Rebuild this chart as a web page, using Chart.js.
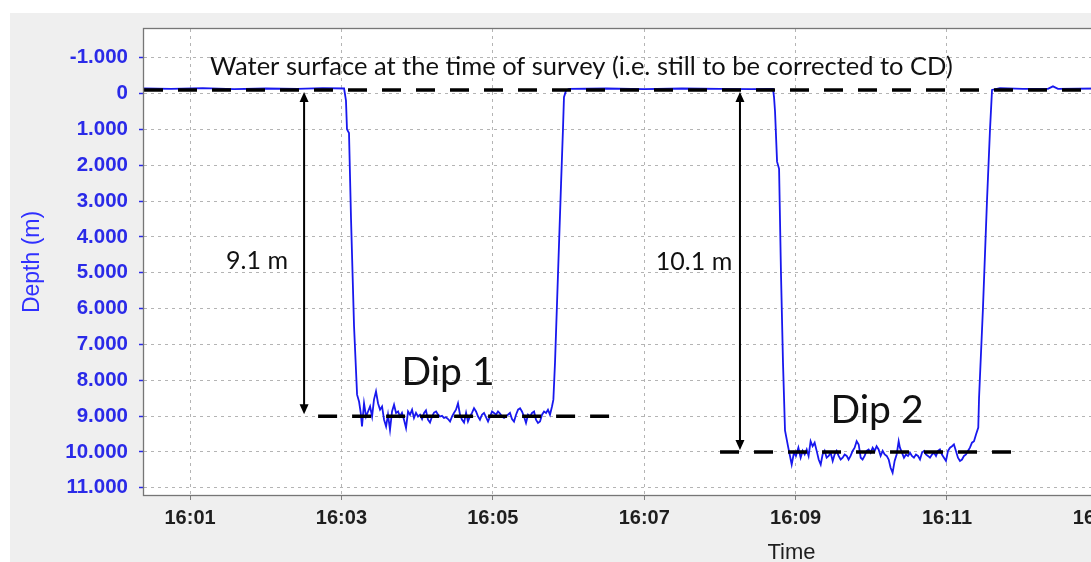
<!DOCTYPE html>
<html>
<head>
<meta charset="utf-8">
<title>Depth (m)</title>
<script src="https://cdn.jsdelivr.net/npm/chart.js@4.4.0/dist/chart.umd.min.js"></script>
<style>
    body { margin: 0; background: #ffffff; overflow: hidden; }
    #panel { position: absolute; left: 10px; top: 13px; width: 1440px; height: 560px; background: #efefef; }
</style>
</head>
<body>
<div id="panel"><canvas id="myChart" width="1440" height="560"></canvas></div>
<script>
// time in seconds after 16:00, depth in metres (positive down)
var elapsedSec = [
    23.5, 45, 70, 95, 120, 145, 165, 182.1,
    183.6, 184.4, 186.0, 187.6, 190.0, 192.4, 194.0,
    195.3, 196.3, 197.9, 199.5, 201.1, 202.7, 204.3, 205.8, 207.4, 209.0,
    210.6, 212.2, 213.8, 215.4, 216.9, 218.5, 220.1, 221.7, 223.3, 224.9,
    226.4, 228.0, 229.6, 231.2, 232.8, 234.4, 236.0, 237.5, 239.1, 240.7,
    242.3, 243.9, 245.5, 247.0, 248.6, 250.2, 251.8, 253.4, 255.0, 256.6,
    258.1, 259.7, 261.3, 262.9, 264.5, 266.1, 267.7, 269.2, 270.8, 272.4,
    274.0, 275.6, 277.2, 278.8, 280.3, 281.9, 283.5, 285.1, 286.7, 288.3,
    289.8, 291.4, 293.0, 294.6, 296.2, 297.8, 299.4, 300.9, 302.5, 304.1,
    305.7, 307.3, 308.9, 310.5, 312.0, 313.6, 315.2, 316.8, 318.4, 320.0,
    321.6, 323.1, 324.7, 326.3, 327.9, 329.5, 331.1, 332.7, 334.2, 335.8,
    337.4, 339.0, 340.6, 342.2, 343.7, 345.3, 346.9, 348.0,
    349.3, 351.7, 354.1, 355.6, 356.4, 358.0, 360.4,
    390, 420, 450, 480, 505, 522.1,
    522.9, 523.7, 525.3, 526.9, 528.4, 530.0, 531.6,
    534.2, 536.9, 538.7, 540.3, 542.2, 544.0, 545.6, 547.2, 548.8, 550.3,
    551.9, 553.5, 555.1, 556.7, 558.3, 559.9, 561.4, 563.0, 564.6, 566.2,
    567.8, 569.4, 570.9, 572.5, 574.1, 575.7, 577.3, 578.9, 580.5, 582.0,
    583.6, 585.2, 586.8, 588.4, 590.0, 591.6, 593.1, 594.7, 596.3, 597.9,
    599.5, 601.1, 602.7, 604.2, 605.8, 607.4, 609.0, 610.6, 612.2, 613.8,
    615.3, 616.9, 618.5, 620.1, 621.7, 622.7, 624.3, 625.9, 627.5, 629.1,
    630.7, 632.2, 633.8, 635.4, 637.0, 638.6, 640.2, 641.8, 643.3, 644.9,
    646.5, 648.1, 649.7, 651.3, 652.9, 654.4, 656.0, 657.6, 659.2, 660.8,
    662.4, 664.0, 665.5, 667.1, 668.7, 670.3, 671.9, 673.5, 675.1, 676.6,
    678.2, 679.8, 681.4, 683.0, 684.8,
    685.4, 688.5, 691.7, 694.1, 695.7, 702.0,
    720, 740, 744, 748, 780, 850, 920, 1000, 1050
];
var depth = [
    -0.14, -0.13, -0.15, -0.12, -0.14, -0.13, -0.15, -0.14,
    0.2, 1.0, 1.1, 3.5, 6.5, 8.4, 8.6,
    8.91, 9.29, 8.64, 9.01, 8.87, 8.73, 9.01, 8.54, 8.31, 8.64,
    8.82, 8.73, 9.10, 9.29, 8.96, 9.38, 8.87, 8.68, 8.91, 8.87,
    9.01, 8.91, 9.10, 9.33, 8.87, 8.96, 8.82, 9.05, 8.91, 9.01,
    8.96, 9.08, 8.91, 8.84, 9.10, 9.18, 9.01, 8.90, 8.87, 8.96,
    9.01, 8.99, 9.05, 9.03, 9.08, 9.15, 9.01, 8.91, 8.82, 8.64,
    8.96, 9.10, 9.18, 8.91, 9.15, 9.01, 8.91, 8.78, 8.87, 9.01,
    9.10, 8.96, 8.91, 9.03, 9.15, 9.01, 8.87, 8.91, 8.96, 8.87,
    8.93, 9.01, 9.05, 9.01, 8.96, 8.91, 9.08, 9.15, 8.96, 8.82,
    8.78, 8.87, 9.01, 9.19, 8.96, 9.01, 8.91, 8.87, 9.10, 9.19,
    9.15, 8.96, 8.87, 8.91, 8.82, 8.96, 8.73, 8.54,
    7.5, 5.0, 2.5, 1.0, 0.1, -0.08, -0.13,
    -0.14, -0.12, -0.14, -0.13, -0.12, -0.13,
    0.1, 0.5, 1.9, 2.1, 5.0, 7.5, 9.4,
    9.88, 10.35, 10.02, 10.11, 9.88, 10.16, 9.97, 10.07, 9.93, 10.11,
    9.70, 9.84, 9.74, 9.97, 10.21, 10.35, 10.07, 9.97, 10.16, 10.11,
    10.02, 10.25, 10.07, 9.97, 10.11, 10.21, 10.16, 10.07, 10.11, 10.21,
    10.11, 9.97, 9.88, 9.70, 9.79, 10.16, 10.21, 10.11, 9.97, 9.93,
    10.02, 9.88, 9.97, 9.84, 9.93, 10.11, 9.97, 10.07, 10.11, 10.21,
    10.44, 10.58, 10.25, 10.07, 9.70, 9.88, 10.02, 10.16, 10.07, 10.11,
    10.02, 10.11, 10.16, 10.07, 10.11, 10.21, 10.02, 9.97, 10.07, 10.11,
    10.16, 10.07, 10.02, 10.11, 9.97, 9.93, 10.07, 10.16, 10.25, 9.97,
    9.88, 9.84, 9.79, 9.97, 10.16, 10.25, 10.21, 10.11, 10.07, 9.97,
    9.88, 9.74, 9.70, 9.51, 9.32,
    8.5, 6.0, 3.0, 1.0, -0.1, -0.15,
    -0.13, -0.13, -0.2, -0.13, -0.14, -0.12, -0.14, -0.13, -0.13
];

// axis ticks
var xTickSecs = [60, 180, 300, 420, 540, 660, 780, 900, 1020];
var xTickLabels = ['16:01', '16:03', '16:05', '16:07', '16:09', '16:11', '16:13', '16:15', '16:17'];
var yTickValues = [-1, 0, 1, 2, 3, 4, 5, 6, 7, 8, 9, 10, 11];
var yTickLabels = ['-1.000', '0', '1.000', '2.000', '3.000', '4.000', '5.000', '6.000',
    '7.000', '8.000', '9.000', '10.000', '11.000'];

// reference levels and annotations
var surfaceLevel = -0.1;
var dip1Level = 9.0;
var dip2Level = 10.0;
var dip1Span = [161.5, 394.5];
var dip2Span = [480.1, 711.5];
var arrow1Sec = 150.4;
var arrow2Sec = 495.9;

var xMin = 23.5, xMax = 1050;
var yMin = -1.8, yMax = 11.2;

function dibujarFlecha(ctx, x, y1, y2) {
    ctx.beginPath();
    ctx.moveTo(x, y1 + 8);
    ctx.lineTo(x, y2 - 8);
    ctx.stroke();
    ctx.beginPath();
    ctx.moveTo(x, y1);
    ctx.lineTo(x - 4.5, y1 + 10);
    ctx.lineTo(x + 4.5, y1 + 10);
    ctx.closePath();
    ctx.fill();
    ctx.beginPath();
    ctx.moveTo(x, y2);
    ctx.lineTo(x - 4.5, y2 - 10);
    ctx.lineTo(x + 4.5, y2 - 10);
    ctx.closePath();
    ctx.fill();
}

const decoracion = {
    id: 'decoracion',
    beforeDraw(chart) {
        const {ctx, chartArea: a} = chart;
        ctx.save();
        ctx.fillStyle = '#ffffff';
        ctx.fillRect(a.left, a.top, a.right - a.left, a.bottom - a.top);
        ctx.restore();
    },
    afterDraw(chart) {
        const {ctx, chartArea: a} = chart;
        const x = chart.scales.x, y = chart.scales.y;
        ctx.save();
        ctx.strokeStyle = '#767676';
        ctx.lineWidth = 1.3;
        ctx.strokeRect(a.left - 0.5, a.top - 0.5, a.right - a.left + 1, a.bottom - a.top + 1);

        // depth arrows from the surface down to each dip
        ctx.strokeStyle = '#000';
        ctx.fillStyle = '#000';
        ctx.lineWidth = 2;
        const ySurf = y.getPixelForValue(surfaceLevel) + 2;
        dibujarFlecha(ctx, x.getPixelForValue(arrow1Sec), ySurf, y.getPixelForValue(dip1Level) - 2);
        dibujarFlecha(ctx, x.getPixelForValue(arrow2Sec), ySurf, y.getPixelForValue(dip2Level) - 2);

        ctx.fillStyle = '#111';
        ctx.textBaseline = 'middle';
        ctx.textAlign = 'left';
        ctx.font = '25.5px Lato';
        ctx.fillText('Water surface at the time of survey (i.e. still to be corrected to CD)',
            x.getPixelForValue(75.9), y.getPixelForValue(-0.75));
        ctx.textAlign = 'center';
        ctx.font = '25px Lato';
        ctx.fillText('9.1 m', x.getPixelForValue(113.1), y.getPixelForValue(4.67));
        ctx.fillText('10.1 m', x.getPixelForValue(459.5), y.getPixelForValue(4.69));
        ctx.font = '39px Lato';
        ctx.fillText('Dip 1', x.getPixelForValue(264.5), y.getPixelForValue(7.79));
        ctx.fillText('Dip 2', x.getPixelForValue(604.5), y.getPixelForValue(8.85));
        ctx.restore();
    }
};

function linea(desde, hasta, nivel) {
    return {
        data: [{x: desde, y: nivel}, {x: hasta, y: nivel}],
        borderColor: '#000000',
        borderWidth: 3.5,
        borderDash: [19, 15],
        pointRadius: 0,
        order: 0
    };
}

var puntos = elapsedSec.map(function (t, i) {
    return {x: t, y: depth[i]};
});

const ctx = document.getElementById('myChart');
new Chart(ctx, {
    type: 'line',
    data: {
        datasets: [
            linea(xMin, xMax, surfaceLevel),
            linea(dip1Span[0], dip1Span[1], dip1Level),
            linea(dip2Span[0], dip2Span[1], dip2Level),
            {
                label: 'Depth',
                data: puntos,
                borderColor: '#1818ee',
                borderWidth: 1.8,
                pointRadius: 0,
                tension: 0,
                order: 1
            }
        ]
    },
    options: {
        responsive: false,
        animation: false,
        layout: {padding: {left: 0, right: 11, top: 16, bottom: 0}},
        plugins: {
            legend: {display: false},
            tooltip: {enabled: false}
        },
        scales: {
            x: {
                type: 'linear',
                min: xMin,
                max: xMax,
                afterBuildTicks: function (scale) {
                    scale.ticks = xTickSecs.map(function (v) { return {value: v}; });
                },
                afterFit: function (scale) {
                    scale.height = 78;
                    scale.paddingLeft = 0;
                    scale.paddingRight = 0;
                },
                ticks: {
                    autoSkip: false,
                    maxRotation: 0,
                    padding: 6,
                    color: '#1e1e1e',
                    font: {family: 'Liberation Sans', size: 20, weight: 'bold'},
                    callback: function (v, i) { return xTickLabels[i]; }
                },
                grid: {color: '#b4b4b4', tickColor: '#808080', tickLength: 5, tickBorderDash: [], borderDash: [3, 4]},
                border: {display: false, dash: [3, 4]},
                title: {
                    display: true,
                    text: 'Time',
                    color: '#1e1e1e',
                    font: {family: 'Liberation Sans', size: 22},
                    padding: {top: 0, bottom: 7}
                }
            },
            y: {
                type: 'linear',
                reverse: true,
                min: yMin,
                max: yMax,
                afterBuildTicks: function (scale) {
                    scale.ticks = yTickValues.map(function (v) { return {value: v}; });
                },
                afterFit: function (scale) {
                    scale.width = 134;
                    scale.paddingTop = 0;
                    scale.paddingBottom = 0;
                },
                ticks: {
                    autoSkip: false,
                    padding: 11,
                    color: '#2a2ae8',
                    font: {family: 'Liberation Sans', size: 20.5, weight: 'bold'},
                    callback: function (v, i) { return yTickLabels[i]; }
                },
                grid: {color: '#b4b4b4', tickColor: '#2a2ae8', tickLength: 5, tickWidth: 1.5, tickBorderDash: [], borderDash: [3, 4]},
                border: {display: false, dash: [3, 4]},
                title: {
                    display: true,
                    text: 'Depth (m)',
                    color: '#3030ff',
                    font: {family: 'Liberation Sans', size: 23},
                    padding: {top: 9, bottom: 0}
                }
            }
        }
    },
    plugins: [decoracion]
});
</script>
</body>
</html>
